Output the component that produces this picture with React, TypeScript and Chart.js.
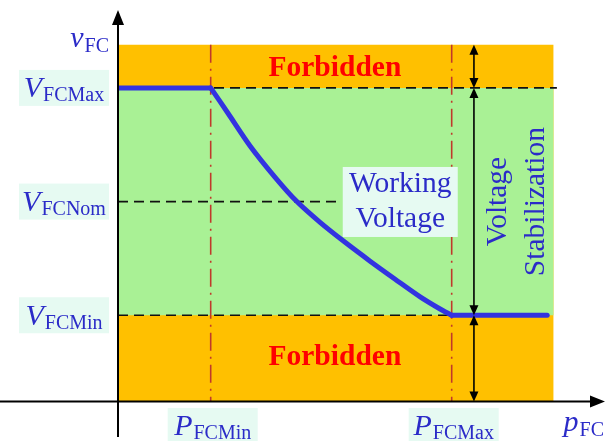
import { useEffect, useRef } from "react";
import { Chart, registerables } from "chart.js";

Chart.register(...registerables);

// ---- data (abstract units: power on x, voltage on y) ----
const X_MAX = 10.4;
const Y_MAX = 10;
const P_FC_MIN = 2.0;
const P_FC_MAX = 7.2;
const V_FC_MIN = 2.2;
const V_FC_NOM = 5.1;
const V_FC_MAX = 8.0;
const V_FORBID_TOP = 9.1;
const P_REGION_END = 9.4;
const P_CURVE_END = 9.26;
const P_ARROW = 7.68;

const curveP = [2.0, 2.37, 2.85, 3.39, 3.86, 4.36, 4.9, 5.44, 5.98, 6.52, 6.95, 7.2];
const curveV = [8.0, 7.36, 6.52, 5.72, 5.1, 4.57, 4.06, 3.58, 3.12, 2.67, 2.36, 2.2];

const yTickValues = [V_FC_MAX, V_FC_NOM, V_FC_MIN];
const yTickSubs = ["FCMax", "FCNom", "FCMin"];
const yGuideEnds = [9.47, 4.79, 7.27];

const xTickValues = [P_FC_MIN, P_FC_MAX];
const xTickSubs = ["FCMin", "FCMax"];

const forbiddenLabel = "Forbidden";
const forbiddenPos = [
  { x: 4.68, y: 8.53 },
  { x: 4.68, y: 1.14 },
];
const workingLines = ["Working", "Voltage"];
const workingPos = { x: 6.09, y: 5.09 };
const stabLines = ["Voltage", "Stabilization"];
const stabPos = { x: 8.86, y: 5.1 };

// ---- styles ----
const ORANGE = "#FFC000";
const GREEN = "#A9F195";
const BLUE_LINE = "#3333E0";
const BLUE_TEXT = "#2B2BC8";
const RED_LINE = "#C0392B";
const BOX = "#E6FAF2";
const SERIF = '"Liberation Serif", "DejaVu Serif", serif';

function drawSubLabel(
  ctx: CanvasRenderingContext2D,
  main: string,
  sub: string,
  x: number,
  baseline: number,
  align: "center" | "right" | "left",
  subDrop: number
) {
  ctx.font = `italic 30px ${SERIF}`;
  const w1 = ctx.measureText(main).width;
  ctx.font = `20px ${SERIF}`;
  const w2 = ctx.measureText(sub).width;
  const total = w1 + w2 + 1;
  let sx = x;
  if (align === "center") sx = x - total / 2;
  else if (align === "right") sx = x - total;
  ctx.textAlign = "left";
  ctx.textBaseline = "alphabetic";
  ctx.fillStyle = BLUE_TEXT;
  ctx.font = `italic 30px ${SERIF}`;
  ctx.fillText(main, sx, baseline);
  ctx.font = `20px ${SERIF}`;
  ctx.fillText(sub, sx + w1 + 1, baseline + subDrop);
}

function arrowHead(ctx: CanvasRenderingContext2D, x: number, y: number, dir: number, len = 10, half = 5) {
  ctx.beginPath();
  ctx.moveTo(x, y);
  ctx.lineTo(x - half, y - dir * len);
  ctx.lineTo(x + half, y - dir * len);
  ctx.closePath();
  ctx.fill();
}

function doubleArrow(ctx: CanvasRenderingContext2D, x: number, y1: number, y2: number) {
  ctx.strokeStyle = "#000";
  ctx.fillStyle = "#000";
  ctx.lineWidth = 1.6;
  ctx.setLineDash([]);
  ctx.beginPath();
  ctx.moveTo(x, y1 + 6);
  ctx.lineTo(x, y2 - 6);
  ctx.stroke();
  arrowHead(ctx, x, y1, -1, 10, 4.5);
  arrowHead(ctx, x, y2, 1, 10, 4.5);
}

const overlay = {
  id: "overlay",
  afterDatasetsDraw(chart: any) {
    const { ctx, scales } = chart;
    const sx = scales.x;
    const sy = scales.y;
    const px = (v: number) => sx.getPixelForValue(v);
    const py = (v: number) => sy.getPixelForValue(v);
    const W = chart.width;
    const H = chart.height;
    ctx.save();

    // double arrows
    const ax = px(P_ARROW);
    doubleArrow(ctx, ax, py(V_FORBID_TOP), py(V_FC_MAX));
    doubleArrow(ctx, ax, py(V_FC_MAX), py(V_FC_MIN));
    doubleArrow(ctx, ax, py(V_FC_MIN), py(0));

    // axes
    ctx.strokeStyle = "#000";
    ctx.fillStyle = "#000";
    ctx.lineWidth = 2;
    ctx.setLineDash([]);
    const x0 = px(0);
    const y0 = py(0);
    ctx.beginPath();
    ctx.moveTo(x0, H - 4);
    ctx.lineTo(x0, 22);
    ctx.stroke();
    arrowHead(ctx, x0, 10, -1, 15, 6);
    ctx.beginPath();
    ctx.moveTo(0, y0);
    ctx.lineTo(W - 12, y0);
    ctx.stroke();
    ctx.beginPath();
    ctx.moveTo(W - 1, y0);
    ctx.lineTo(W - 16, y0 - 6);
    ctx.lineTo(W - 16, y0 + 6);
    ctx.closePath();
    ctx.fill();

    // forbidden labels
    ctx.fillStyle = "#FF0000";
    ctx.font = `bold 29.5px ${SERIF}`;
    ctx.textAlign = "center";
    ctx.textBaseline = "middle";
    forbiddenPos.forEach((p) => ctx.fillText(forbiddenLabel, px(p.x), py(p.y) + 1));

    // working voltage box
    const wx = px(workingPos.x);
    const wy = py(workingPos.y);
    ctx.fillStyle = BOX;
    ctx.fillRect(wx - 57.5, wy - 35, 115, 70);
    ctx.fillStyle = BLUE_TEXT;
    ctx.font = `29.5px ${SERIF}`;
    ctx.textAlign = "center";
    ctx.textBaseline = "alphabetic";
    ctx.fillText(workingLines[0], wx, wy - 10);
    ctx.fillText(workingLines[1], wx, wy + 25);

    // voltage stabilization (rotated)
    const stx = px(stabPos.x);
    const sty = py(stabPos.y);
    ctx.save();
    ctx.translate(stx, sty);
    ctx.rotate(-Math.PI / 2);
    ctx.fillStyle = BLUE_TEXT;
    ctx.font = `29.5px ${SERIF}`;
    ctx.textAlign = "center";
    ctx.textBaseline = "alphabetic";
    ctx.fillText(stabLines[0], 0, 506 - stx);
    ctx.fillText(stabLines[1], 0, 544 - stx);
    ctx.restore();

    // y tick labels
    yTickValues.forEach((v, i) => {
      const ty = py(v);
      ctx.fillStyle = BOX;
      ctx.fillRect(x0 - 99, ty - 18, 90, 36);
      drawSubLabel(ctx, "V", yTickSubs[i], x0 - 54, ty + 9.5, "center", 4);
    });
    drawSubLabel(ctx, "v", "FC", x0 - 9, 47, "right", 5);

    // x tick labels
    xTickValues.forEach((v, i) => {
      const tx = px(v);
      ctx.fillStyle = BOX;
      ctx.fillRect(tx - 43, y0 + 6.5, 90, 40);
      drawSubLabel(ctx, "P", xTickSubs[i], tx + 2, y0 + 33.5, "center", 4);
    });
    drawSubLabel(ctx, "p", "FC", W - 2, y0 + 29.5, "right", 5);

    ctx.restore();
  },
};

export default function App() {
  const ref = useRef<HTMLCanvasElement | null>(null);
  useEffect(() => {
    if (!ref.current) return;
    const line = (pts: { x: number; y: number }[], extra: any) => ({
      data: pts,
      showLine: true,
      pointRadius: 0,
      borderWidth: 0,
      fill: false,
      ...extra,
    });
    const datasets: any[] = [
      line(
        curveP.map((p, i) => ({ x: p, y: curveV[i] })),
        { borderColor: BLUE_LINE, borderWidth: 5, tension: 0.3, borderCapStyle: "round", borderJoinStyle: "round", order: 0 }
      ),
      line(
        [{ x: 0, y: V_FC_MAX }, { x: P_FC_MIN, y: V_FC_MAX }],
        { borderColor: BLUE_LINE, borderWidth: 5, borderJoinStyle: "round", order: 0 }
      ),
      line(
        [{ x: P_FC_MAX, y: V_FC_MIN }, { x: P_CURVE_END, y: V_FC_MIN }],
        { borderColor: BLUE_LINE, borderWidth: 5, borderCapStyle: "round", order: 0 }
      ),
      ...yTickValues.map((v, i) =>
        line([{ x: 0, y: v }, { x: yGuideEnds[i], y: v }], {
          borderColor: "#111",
          borderWidth: 1.6,
          borderDash: [10, 6],
          order: 1,
        })
      ),
      ...xTickValues.map((p) =>
        line([{ x: p, y: V_FORBID_TOP }, { x: p, y: -0.1 }], {
          borderColor: RED_LINE,
          borderWidth: 1.6,
          borderDash: [18, 6, 2, 6],
          order: 2,
        })
      ),
      line(
        [{ x: 0, y: V_FC_MAX }, { x: P_REGION_END, y: V_FC_MAX }],
        { backgroundColor: GREEN, borderColor: "rgba(0,0,0,0)", fill: { value: V_FC_MIN }, order: 3 }
      ),
      line(
        [{ x: 0, y: V_FORBID_TOP }, { x: P_REGION_END, y: V_FORBID_TOP }],
        { backgroundColor: ORANGE, borderColor: "rgba(0,0,0,0)", fill: "origin", order: 4 }
      ),
    ];
    const chart = new Chart(ref.current, {
      type: "scatter",
      data: { datasets },
      options: {
        animation: false,
        responsive: false,
        devicePixelRatio: window.devicePixelRatio || 1,
        layout: { padding: { left: 118, right: 6, top: 9.5, bottom: 39.5 } },
        scales: {
          x: { type: "linear", min: 0, max: X_MAX, display: false },
          y: { type: "linear", min: 0, max: Y_MAX, display: false },
        },
        plugins: {
          legend: { display: false },
          tooltip: { enabled: false },
        },
      },
      plugins: [overlay],
    });
    return () => chart.destroy();
  }, []);
  return (
    <div style={{ position: "fixed", left: 0, top: 0, width: 606, height: 441, background: "#fff" }}>
      <canvas ref={ref} width={606} height={441} style={{ display: "block", width: 606, height: 441 }} />
    </div>
  );
}
